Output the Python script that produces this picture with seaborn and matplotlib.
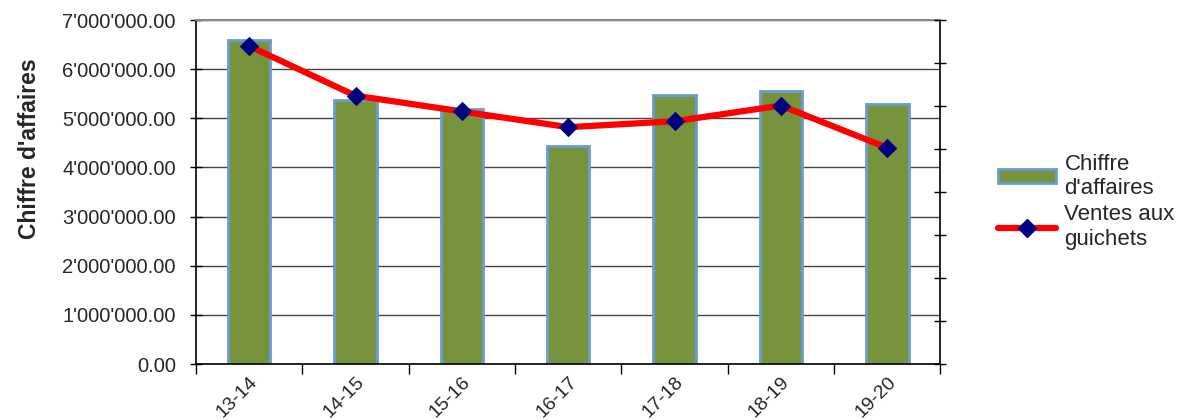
import matplotlib
matplotlib.use('Agg')
import numpy as np
import pandas as pd
import matplotlib.pyplot as plt
import seaborn as sns
from matplotlib.ticker import FuncFormatter, FixedLocator
from matplotlib.lines import Line2D
from matplotlib.patches import Patch

saisons = ['13-14', '14-15', '15-16', '16-17', '17-18', '18-19', '19-20']
chiffre_affaires = [6590000, 5380000, 5180000, 4440000, 5480000, 5560000, 5300000]
ventes_guichets = [6470000, 5460000, 5140000, 4820000, 4940000, 5260000, 4400000]

sns.set_style('white')
plt.rcParams['font.family'] = ['Liberation Sans', 'DejaVu Sans']

df = pd.DataFrame({'saison': saisons, 'ca': chiffre_affaires, 'ventes': ventes_guichets})

fig = plt.figure(figsize=(11.88, 4.2), dpi=100)
ax = fig.add_axes([0.165, 0.1333, 0.6266, 0.819])

sns.barplot(data=df, x='saison', y='ca', ax=ax, color='#77933C', width=0.4,
            edgecolor='#6A9BD8', linewidth=2, saturation=1, zorder=2)

ax.set_ylim(0, 7000000)
ax.set_xlim(-0.5, 6.5)
ax.set_yticks(np.arange(0, 7000001, 1000000))
ax.yaxis.set_major_formatter(FuncFormatter(lambda v, p: f"{v:,.2f}".replace(',', "'")))
ax.grid(axis='y', color='#444444', linewidth=1, zorder=0)
ax.set_axisbelow(True)
ax.tick_params(axis='y', direction='inout', length=9, width=1, color='black', labelsize=14.5, pad=10, left=True)
ax.xaxis.set_minor_locator(FixedLocator(np.arange(-0.5, 7, 1)))
ax.tick_params(axis='x', which='major', length=0, labelsize=14, pad=7)
ax.tick_params(axis='x', which='minor', direction='out', length=7, width=1, color='black', bottom=True)
plt.setp(ax.get_xticklabels(), rotation=45, ha='right', rotation_mode='anchor')
ax.set_xlabel('')
ax.set_ylabel("Chiffre d'affaires", fontsize=16.5, fontweight='bold')
ax.yaxis.set_label_coords(-0.208, 0.625)

for side in ['left', 'bottom', 'right']:
    ax.spines[side].set_color('black')
    ax.spines[side].set_linewidth(1.2)
ax.spines['top'].set_color('#888888')
ax.spines['top'].set_linewidth(1.5)

ax2 = ax.twinx()
sns.lineplot(data=df, x='saison', y='ventes', ax=ax2, color='red', linewidth=4.5,
             marker='D', markersize=9.5, markerfacecolor='#000080', markeredgecolor='#000080',
             zorder=3)
ax2.set_ylim(0, 7000000)
ax2.set_yticks(np.linspace(0, 7000000, 9))
ax2.set_yticklabels([])
ax2.set_ylabel('')
ax2.tick_params(axis='y', direction='inout', length=9, width=1, color='black', right=True)
for s in ax2.spines.values():
    s.set_visible(False)

handles = [Patch(facecolor='#77933C', edgecolor='#6A9BD8', linewidth=2),
           Line2D([0], [0], color='red', linewidth=4.5, marker='D', markersize=9.5,
                  markerfacecolor='#000080', markeredgecolor='#000080')]
fig.legend(handles, ["Chiffre\nd'affaires", 'Ventes aux\nguichets'], loc='center left',
           bbox_to_anchor=(0.823, 0.52), frameon=False, fontsize=16,
           handlelength=2.6, handleheight=0.6, labelspacing=0.25, handletextpad=0.4)

fig.savefig('out.png', dpi=100)
